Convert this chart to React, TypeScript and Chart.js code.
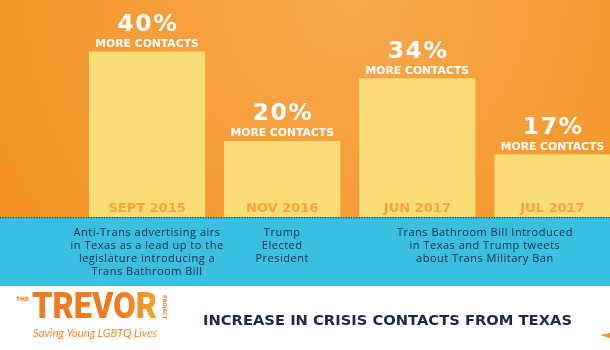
import { useEffect, useRef } from "react";
import { Chart, registerables } from "chart.js";

Chart.register(...registerables);

const categories = ["SEPT 2015", "NOV 2016", "JUN 2017", "JUL 2017"];
const increases = [40, 20, 34, 17];
const valueLabels = ["40%", "20%", "34%", "17%"];
const valueSubLabel = "MORE CONTACTS";
const noteCategories = [["SEPT 2015"], ["NOV 2016"], ["JUN 2017", "JUL 2017"]];
const noteLines = [
  ["Anti-Trans advertising airs", "in Texas as a lead up to the", "legislature introducing a", "Trans Bathroom Bill"],
  ["Trump", "Elected", "President"],
  ["Trans Bathroom Bill Introduced", "in Texas and Trump tweets", "about Trans Military Ban"],
];
const title = "INCREASE IN CRISIS CONTACTS FROM TEXAS";
const logoWord = "TREVOR";
const logoThe = "THE";
const logoProject = "PROJECT";
const logoTagline = "Saving Young LGBTQ Lives";

const W = 620;
const H = 350;
const BASE = 217;
const BAND_BOTTOM = 286;
const NAVY = "#1C2947";

const infographic = {
  id: "infographic",
  beforeDraw(chart: any) {
    const ctx = chart.ctx as CanvasRenderingContext2D;
    ctx.save();
    const g = ctx.createRadialGradient(350, 0, 10, 350, 0, 440);
    g.addColorStop(0, "#F8A84D");
    g.addColorStop(1, "#F3911F");
    ctx.fillStyle = g;
    ctx.fillRect(0, 0, W, BASE);
    ctx.fillStyle = "#3BBFE0";
    ctx.fillRect(0, BASE, W, BAND_BOTTOM - BASE);
    ctx.fillStyle = "#FFFFFF";
    ctx.fillRect(0, BAND_BOTTOM, W, H - BAND_BOTTOM);
    ctx.restore();
  },
  afterDatasetsDraw(chart: any) {
    const ctx = chart.ctx as CanvasRenderingContext2D;
    const meta = chart.getDatasetMeta(0);
    const xs = chart.scales.x;
    ctx.save();
    ctx.textAlign = "center";
    ctx.textBaseline = "alphabetic";
    meta.data.forEach((bar: any, i: number) => {
      const top = bar.y;
      ctx.fillStyle = "#FFFFFF";
      ctx.font = "bold 23.5px 'DejaVu Sans'";
      (ctx as any).letterSpacing = "1.5px";
      ctx.fillText(valueLabels[i], bar.x + 0.75, top - 20.5);
      ctx.font = "bold 10.8px 'DejaVu Sans'";
      (ctx as any).letterSpacing = "0px";
      ctx.fillText(valueSubLabel, bar.x, top - 4.5);
      ctx.fillStyle = "#F6A43A";
      ctx.font = "bold 13px 'DejaVu Sans'";
      (ctx as any).letterSpacing = "0px";
      ctx.fillText(categories[i], bar.x, 211.5);
    });
    (ctx as any).letterSpacing = "0px";

    // dotted line
    ctx.strokeStyle = NAVY;
    ctx.lineWidth = 1.2;
    ctx.setLineDash([1, 1.6]);
    ctx.beginPath();
    ctx.moveTo(0, BASE + 0.6);
    ctx.lineTo(W, BASE + 0.6);
    ctx.stroke();
    ctx.setLineDash([]);

    // notes
    ctx.fillStyle = NAVY;
    ctx.font = "500 11px 'Open Sans'";
    (ctx as any).letterSpacing = "0.5px";
    ctx.textBaseline = "middle";
    noteCategories.forEach((cats, k) => {
      const px = cats.map((c) => xs.getPixelForValue(categories.indexOf(c)));
      const cx = px.reduce((a, b) => a + b, 0) / px.length;
      noteLines[k].forEach((line, j) => {
        ctx.fillText(line, cx, 233 + j * 13);
      });
    });

    // title
    ctx.font = "bold 14.5px 'DejaVu Sans'";
    (ctx as any).letterSpacing = "0px";
    ctx.textAlign = "left";
    ctx.textBaseline = "alphabetic";
    ctx.fillStyle = NAVY;
    const titleW = ctx.measureText(title).width;
    ctx.save();
    ctx.translate(203, 324.5);
    ctx.scale(369 / titleW, 1);
    ctx.fillText(title, 0, 0);
    ctx.restore();

    // logo
    const lg = ctx.createLinearGradient(32, 292, 157, 318);
    lg.addColorStop(0, "#EE7A22");
    lg.addColorStop(0.45, "#F9B42C");
    lg.addColorStop(0.6, "#F6A02A");
    lg.addColorStop(1, "#EE7424");
    ctx.save();
    ctx.translate(32, 318);
    ctx.font = "900 36px 'Roboto'";
    const ww = ctx.measureText(logoWord).width;
    ctx.scale(125 / ww, 1);
    ctx.fillStyle = lg;
    ctx.fillText(logoWord, 0, 0);
    ctx.restore();

    ctx.fillStyle = "#EE7A22";
    ctx.font = "bold 6px 'DejaVu Sans'";
    ctx.fillText(logoThe, 16, 301);
    ctx.save();
    ctx.translate(163, 295);
    ctx.rotate(Math.PI / 2);
    ctx.font = "bold 5px 'DejaVu Sans'";
    ctx.fillText(logoProject, 0, 0);
    ctx.restore();

    ctx.fillStyle = "#F08A26";
    ctx.font = "italic 11px 'Lato'";
    ctx.save();
    ctx.translate(33, 337);
    const tw = ctx.measureText(logoTagline).width;
    ctx.scale(124 / tw, 1);
    ctx.fillText(logoTagline, 0, 0);
    ctx.restore();

    // small orange corner mark
    ctx.fillStyle = "#F39220";
    ctx.beginPath();
    ctx.moveTo(600, 335);
    ctx.lineTo(610, 333);
    ctx.lineTo(610, 338);
    ctx.closePath();
    ctx.fill();

    ctx.restore();
  },
};

export default function App() {
  const ref = useRef<HTMLCanvasElement | null>(null);
  useEffect(() => {
    if (!ref.current) return;
    const chart = new Chart(ref.current, {
      type: "bar",
      data: {
        labels: categories,
        datasets: [
          {
            data: increases,
            backgroundColor: "#FADD77",
            borderWidth: 0,
            barPercentage: 0.86,
            categoryPercentage: 1,
          },
        ],
      },
      options: {
        responsive: false,
        animation: false,
        devicePixelRatio: 1,
        layout: { padding: { left: 79.5, right: 0, top: 0, bottom: H - BASE } },
        plugins: { legend: { display: false }, tooltip: { enabled: false } },
        scales: {
          x: { display: false },
          y: { display: false, min: 3, max: 51.5 },
        },
      },
      plugins: [infographic],
    });
    return () => chart.destroy();
  }, []);
  return (
    <div style={{ position: "fixed", left: 0, top: 0, width: 610, height: 350, overflow: "hidden" }}>
      <canvas ref={ref} width={W} height={H} style={{ display: "block" }} />
    </div>
  );
}
